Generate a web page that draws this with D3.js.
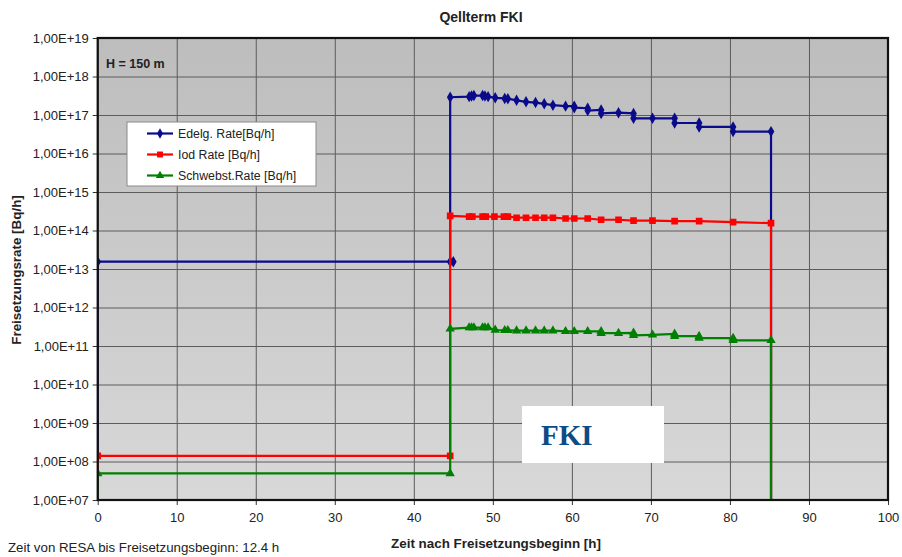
<!DOCTYPE html>
<html>
<head>
<meta charset="utf-8">
<script src="https://cdn.jsdelivr.net/npm/d3@7"></script>
<style>
  html, body { margin: 0; padding: 0; background: #fff; }
  svg { display: block; font-family: "Liberation Sans", Arial, sans-serif; }
</style>
</head>
<body>
<svg id="chart" width="902" height="557"></svg>
<script>
// Release rates (Bq/h) over time after release start (h).
// Repeated times mark the vertical steps of the step-wise source term.
const FLOOR = 1e6; // below axis minimum, drawn as drop to the bottom edge

const edelgTimes = [0, 0, 45.0, 44.6, 44.6, 47.0, 47.3, 47.6, 48.7, 49.0, 49.4, 50.3, 51.5, 51.9, 53.0, 54.2, 55.4, 56.5, 57.6, 59.2,
  60.3, 60.3, 62.0, 62.0, 63.7, 63.7, 65.9, 67.8, 67.8, 70.2, 73.0, 73.0, 76.1, 76.1, 80.4, 80.4, 85.2, 85.2];
const edelgValues = [FLOOR, 1.55e13, 1.55e13, 1.55e13, 2.9e17, 3.0e17, 3.1e17, 3.2e17, 3.2e17, 3.1e17, 3.0e17, 2.8e17, 2.7e17, 2.65e17, 2.4e17, 2.2e17, 2.1e17, 1.95e17, 1.8e17, 1.7e17,
  1.7e17, 1.55e17, 1.5e17, 1.3e17, 1.35e17, 1.1e17, 1.15e17, 1.1e17, 8.2e16, 8.2e16, 8.2e16, 6.2e16, 6.2e16, 4.9e16, 4.9e16, 3.7e16, 3.7e16, FLOOR];

const iodTimes = [0, 0, 44.6, 44.6, 47.0, 47.4, 48.7, 49.1, 50.2, 51.4, 51.9, 53.0, 54.2, 55.4, 56.5, 57.6, 59.2, 60.3, 62.0, 63.7, 65.9, 67.8, 70.2, 73.0, 76.1, 80.4, 85.2, 85.2];
const iodValues = [FLOOR, 1.4e8, 1.4e8, 2.4e14, 2.3e14, 2.3e14, 2.3e14, 2.3e14, 2.3e14, 2.3e14, 2.3e14, 2.15e14, 2.15e14, 2.15e14, 2.15e14, 2.15e14, 2.05e14, 2.05e14, 2.05e14, 1.9e14, 1.9e14, 1.8e14, 1.8e14, 1.75e14, 1.75e14, 1.65e14, 1.55e14, FLOOR];

const schwebTimes = [0, 0, 44.6, 44.6, 47.0, 47.3, 47.6, 48.7, 49.0, 49.4, 50.3, 51.5, 51.9, 53.0, 54.2, 55.4, 56.5, 57.6, 59.2, 60.3, 62.0,
  63.7, 63.7, 65.9, 67.8, 67.8, 70.2, 73.0, 73.0, 76.1, 76.1, 80.4, 80.4, 85.2, 85.2];
const schwebValues = [FLOOR, 4.9e7, 4.9e7, 2.8e11, 3.0e11, 3.0e11, 3.0e11, 3.0e11, 3.0e11, 3.0e11, 2.6e11, 2.55e11, 2.55e11, 2.5e11, 2.5e11, 2.5e11, 2.5e11, 2.5e11, 2.4e11, 2.4e11, 2.4e11,
  2.4e11, 2.15e11, 2.15e11, 2.2e11, 1.9e11, 1.95e11, 2.05e11, 1.8e11, 1.8e11, 1.6e11, 1.6e11, 1.4e11, 1.4e11, FLOOR];

const seriesNames = ["Edelg. Rate[Bq/h]", "Iod Rate [Bq/h]", "Schwebst.Rate [Bq/h]"];
const seriesColors = ["#0a0a8c", "#ff0000", "#008000"];

const xTicks = [0, 10, 20, 30, 40, 50, 60, 70, 80, 90, 100];
const yExponents = [7, 8, 9, 10, 11, 12, 13, 14, 15, 16, 17, 18, 19];

const chartTitle = "Qellterm FKI";
const xTitle = "Zeit nach Freisetzungsbeginn [h]";
const yTitle = "Freisetzungsrate [Bq/h]";
const heightNote = "H = 150 m";
const footNote = "Zeit von RESA bis Freisetzungsbeginn: 12.4 h";
const stampText = "FKI";

// ---- layout ----
const svg = d3.select("#chart");
const plot = { left: 97.7, right: 888, top: 38, bottom: 500 };

const x = d3.scaleLinear().domain([0, 100]).range([plot.left, plot.right]);
const y = d3.scaleLog().domain([1e7, 1e19]).range([plot.bottom, plot.top]);

const defs = svg.append("defs");
const grad = defs.append("linearGradient")
  .attr("id", "plotBg").attr("x1", 0).attr("y1", 0).attr("x2", 0).attr("y2", 1);
grad.append("stop").attr("offset", "0%").attr("stop-color", "#bdbdbd");
grad.append("stop").attr("offset", "100%").attr("stop-color", "#d8d8d8");

defs.append("clipPath").attr("id", "plotClip")
  .append("rect")
  .attr("x", plot.left).attr("y", plot.top - 6)
  .attr("width", plot.right - plot.left + 6).attr("height", plot.bottom - plot.top + 6);

svg.append("rect")
  .attr("x", plot.left).attr("y", plot.top)
  .attr("width", plot.right - plot.left).attr("height", plot.bottom - plot.top)
  .attr("fill", "url(#plotBg)");

// ---- gridlines ----
const yVals = yExponents.map(e => Math.pow(10, e));
svg.append("g")
  .attr("transform", `translate(${plot.left},0)`)
  .call(d3.axisLeft(y).tickValues(yVals).tickSize(-(plot.right - plot.left)).tickFormat(""))
  .call(g => g.select(".domain").remove())
  .call(g => g.selectAll("line").attr("stroke", "#5c5c5c").attr("stroke-width", 1));

svg.append("g")
  .attr("transform", `translate(0,${plot.bottom})`)
  .call(d3.axisBottom(x).tickValues(xTicks).tickSize(-(plot.bottom - plot.top)).tickFormat(""))
  .call(g => g.select(".domain").remove())
  .call(g => g.selectAll("line").attr("stroke", "#5c5c5c").attr("stroke-width", 1));

// ---- axes with tick labels ----
const fmtY = v => "1,00E+" + String(Math.round(Math.log10(v))).padStart(2, "0");

svg.append("g")
  .attr("transform", `translate(${plot.left},0)`)
  .call(d3.axisLeft(y).tickValues(yVals).tickSize(5).tickPadding(4).tickFormat(fmtY))
  .call(g => g.select(".domain").remove())
  .call(g => g.selectAll("line").attr("stroke", "#333"))
  .call(g => g.selectAll("text").attr("font-size", 13).attr("fill", "#222")
    .attr("font-family", "Liberation Sans, Arial, sans-serif"));

svg.append("g")
  .attr("transform", `translate(0,${plot.bottom})`)
  .call(d3.axisBottom(x).tickValues(xTicks).tickSize(5).tickPadding(8).tickFormat(d3.format("d")))
  .call(g => g.select(".domain").remove())
  .call(g => g.selectAll("line").attr("stroke", "#333"))
  .call(g => g.selectAll("text").attr("font-size", 13).attr("fill", "#222")
    .attr("font-family", "Liberation Sans, Arial, sans-serif"));

// ---- series ----
const series = [
  { t: edelgTimes, v: edelgValues, symbol: d3.symbolDiamond, size: 38 },
  { t: iodTimes, v: iodValues, symbol: d3.symbolSquare, size: 44 },
  { t: schwebTimes, v: schwebValues, symbol: d3.symbolTriangle, size: 38 }
];

const line = d3.line().x(d => x(d[0])).y(d => y(d[1]));
const layer = svg.append("g").attr("clip-path", "url(#plotClip)");

series.forEach((s, i) => {
  const pts = s.t.map((t, k) => [t, s.v[k]]);
  layer.append("path")
    .attr("d", line(pts))
    .attr("fill", "none")
    .attr("stroke", seriesColors[i])
    .attr("stroke-width", 2.2)
    .attr("stroke-linejoin", "miter");
  layer.selectAll(null)
    .data(pts.filter(p => p[1] >= 1e7))
    .join("path")
    .attr("transform", p => `translate(${x(p[0])},${y(p[1])})`)
    .attr("d", d3.symbol().type(s.symbol).size(s.size))
    .attr("fill", seriesColors[i]);
});

// plot frame
svg.append("rect")
  .attr("x", plot.left).attr("y", plot.top)
  .attr("width", plot.right - plot.left).attr("height", plot.bottom - plot.top)
  .attr("fill", "none").attr("stroke", "#111").attr("stroke-width", 2.2);

// ---- legend ----
const lg = svg.append("g").attr("transform", "translate(127,122)");
lg.append("rect").attr("width", 189).attr("height", 64)
  .attr("fill", "#fff").attr("stroke", "#8a8a8a").attr("stroke-width", 1);
seriesNames.forEach((name, i) => {
  const row = lg.append("g").attr("transform", `translate(0,${11.5 + i * 21})`);
  row.append("line").attr("x1", 20).attr("x2", 46).attr("y1", 0).attr("y2", 0)
    .attr("stroke", seriesColors[i]).attr("stroke-width", 2.2);
  row.append("path").attr("transform", "translate(33,0)")
    .attr("d", d3.symbol().type(series[i].symbol).size(series[i].size * 0.8))
    .attr("fill", seriesColors[i]);
  row.append("text").attr("x", 51).attr("y", 4.5)
    .attr("font-size", 12.3).attr("fill", "#222").text(name);
});

// ---- annotations ----
svg.append("text").attr("x", 106).attr("y", 68)
  .attr("font-size", 12.5).attr("font-weight", "bold").attr("fill", "#222").text(heightNote);

svg.append("rect").attr("x", 522).attr("y", 406).attr("width", 142).attr("height", 57).attr("fill", "#fff");
svg.append("text").attr("x", 541).attr("y", 444.5)
  .attr("font-family", "Liberation Serif, 'Times New Roman', serif")
  .attr("font-size", 29).attr("font-weight", "bold").attr("fill", "#0d4b85").text(stampText);

// ---- titles ----
svg.append("text").attr("x", 481).attr("y", 22).attr("text-anchor", "middle")
  .attr("font-size", 14).attr("font-weight", "bold").attr("fill", "#222").text(chartTitle);

svg.append("text").attr("x", 496).attr("y", 548).attr("text-anchor", "middle")
  .attr("font-size", 13.4).attr("font-weight", "bold").attr("fill", "#222").text(xTitle);

svg.append("text")
  .attr("transform", "translate(21,270) rotate(-90)")
  .attr("text-anchor", "middle")
  .attr("font-size", 13.4).attr("font-weight", "bold").attr("fill", "#222").text(yTitle);

svg.append("text").attr("x", 8).attr("y", 552)
  .attr("font-size", 13.3).attr("fill", "#222").text(footNote);
</script>
</body>
</html>
